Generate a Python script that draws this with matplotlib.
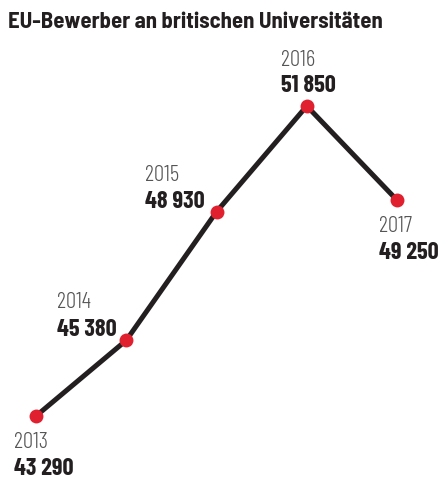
import matplotlib
matplotlib.use('Agg')
import matplotlib.pyplot as plt

years = [2013, 2014, 2015, 2016, 2017]
applicants = [43290, 45380, 48930, 51850, 49250]
value_labels = ['43 290', '45 380', '48 930', '51 850', '49 250']

# label placement in pixels relative to each point: (left x, year baseline, value baseline)
offsets = [(-22, -32, -59), (-69, 32, 4), (-72, 31, 4), (-26, 40, 14), (-18, -32, -59)]

font = ['Barlow Condensed', 'DejaVu Sans']
title_font = ['Barlow Semi Condensed', 'Barlow Condensed', 'DejaVu Sans']

fig = plt.figure(figsize=(4.38, 4.83), dpi=100)
ax = fig.add_axes([0, 0, 1, 1])
ax.set_xlim(2012.601, 2017.454)
ax.set_ylim(41440, 54777)
ax.axis('off')

ax.plot(years, applicants, color='#231f20', lw=3.6, solid_capstyle='round', zorder=2)
ax.scatter(years, applicants, s=100, color='#e0202e', zorder=3, linewidths=0)

for yr, val, lab, (dx, dy1, dy2) in zip(years, applicants, value_labels, offsets):
    ax.annotate(str(yr), (yr, val), xytext=(dx, dy1), textcoords='offset pixels',
                ha='left', va='baseline', fontsize=16.5, color='#555555',
                family=font, weight=300)
    ax.annotate(lab, (yr, val), xytext=(dx, dy2), textcoords='offset pixels',
                ha='left', va='baseline', fontsize=17.5, color='#231f20',
                family=font, weight='bold')

fig.text(8 / 438, 1 - 28 / 483, 'EU-Bewerber an britischen Universitäten',
         ha='left', va='baseline', fontsize=16.4, weight='bold', color='#231f20',
         family=title_font)

fig.savefig('out.png', dpi=100)
